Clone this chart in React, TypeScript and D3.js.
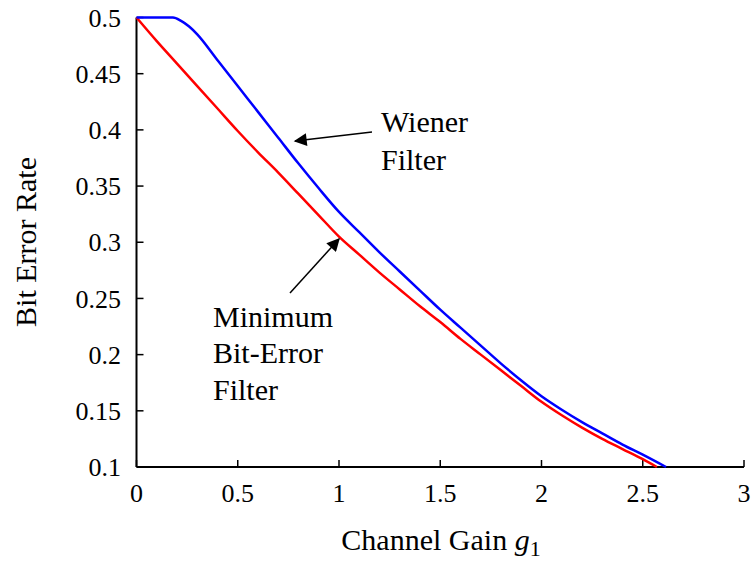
import React from "react";
import * as d3 from "d3";

const xTicks = [0, 0.5, 1, 1.5, 2, 2.5, 3];
const yTicks = [0.1, 0.15, 0.2, 0.25, 0.3, 0.35, 0.4, 0.45, 0.5];

const mbeX = [0, 0.1, 0.2, 0.3, 0.4, 0.5, 0.6, 0.7, 0.8, 0.9, 1.0, 1.1, 1.2, 1.3, 1.4, 1.5, 1.6, 1.7, 1.8, 1.9, 2.0, 2.1, 2.2, 2.3, 2.4, 2.5, 2.57];
const mbeY = [0.5, 0.479, 0.459, 0.439, 0.419, 0.399, 0.38, 0.362, 0.343, 0.324, 0.305, 0.289, 0.273, 0.258, 0.243, 0.229, 0.214, 0.2, 0.186, 0.172, 0.158, 0.146, 0.135, 0.125, 0.116, 0.107, 0.1];

const wienerX = [0, 0.18, 0.22, 0.26, 0.3, 0.4, 0.5, 0.6, 0.7, 0.8, 0.9, 1.0, 1.1, 1.2, 1.3, 1.4, 1.5, 1.6, 1.7, 1.8, 1.9, 2.0, 2.1, 2.2, 2.3, 2.4, 2.5, 2.615];
const wienerY = [0.5, 0.5, 0.497, 0.492, 0.485, 0.462, 0.439, 0.416, 0.393, 0.37, 0.348, 0.327, 0.309, 0.291, 0.274, 0.257, 0.24, 0.224, 0.208, 0.192, 0.177, 0.163, 0.151, 0.14, 0.13, 0.12, 0.111, 0.1];

const W = 753;
const H = 561;
const FONT = "'Liberation Serif', 'Times New Roman', Times, serif";

export default function App() {
  const x = d3.scaleLinear().domain([0, 3]).range([136.5, 744]);
  const y = d3.scaleLinear().domain([0.1, 0.5]).range([467, 17.5]);
  const line = d3
    .line<[number, number]>()
    .x((d) => x(d[0]))
    .y((d) => y(d[1]))
    .curve(d3.curveMonotoneX);
  const mbe = mbeX.map((v, i) => [v, mbeY[i]] as [number, number]);
  const wiener = wienerX.map((v, i) => [v, wienerY[i]] as [number, number]);
  const ts = { fontFamily: FONT };

  return (
    <svg
      width={W}
      height={H}
      style={{ position: "absolute", left: 0, top: 0, background: "#fff" }}
    >
      <defs>
        <marker
          id="ah"
          viewBox="0 0 10 10"
          refX={9}
          refY={5}
          markerWidth={17}
          markerHeight={13}
          markerUnits="userSpaceOnUse"
          orient="auto"
        >
          <path d="M0,0 L10,5 L0,10 Z" fill="#000" />
        </marker>
      </defs>
      {/* axes */}
      <line x1={x(0)} x2={x(3)} y1={y(0.1)} y2={y(0.1)} stroke="#000" strokeWidth={2} />
      <line x1={x(0)} x2={x(0)} y1={y(0.1)} y2={y(0.5)} stroke="#000" strokeWidth={2} />
      {xTicks.map((t) => (
        <g key={"x" + t}>
          <line x1={x(t)} x2={x(t)} y1={y(0.1)} y2={y(0.1) - 7} stroke="#000" strokeWidth={1.5} />
          <text x={x(t)} y={502} textAnchor="middle" fontSize={26} style={ts}>
            {String(t)}
          </text>
        </g>
      ))}
      {yTicks.map((t) => (
        <g key={"y" + t}>
          <line x1={x(0)} x2={x(0) + 7} y1={y(t)} y2={y(t)} stroke="#000" strokeWidth={1.5} />
          <text x={121} y={y(t)} dy="0.35em" textAnchor="end" fontSize={26} style={ts}>
            {String(t)}
          </text>
        </g>
      ))}
      {/* series */}
      <path d={line(mbe) || ""} fill="none" stroke="#ff0000" strokeWidth={2.5} />
      <path d={line(wiener) || ""} fill="none" stroke="#0000ff" strokeWidth={2.5} />
      {/* axis labels */}
      <text x={441} y={550} textAnchor="middle" fontSize={30} style={ts}>
        Channel Gain <tspan fontStyle="italic">g</tspan>
        <tspan fontSize={22} dy={6}>1</tspan>
      </text>
      <text transform="translate(36,242) rotate(-90)" textAnchor="middle" fontSize={30} style={ts}>
        Bit Error Rate
      </text>
      {/* annotations */}
      <text x={381} y={132} fontSize={30} style={ts}>Wiener</text>
      <text x={381} y={170} fontSize={30} style={ts}>Filter</text>
      <line x1={372} y1={132} x2={295} y2={141} stroke="#000" strokeWidth={1.5} markerEnd="url(#ah)" />
      <text x={213} y={327} fontSize={30} style={ts}>Minimum</text>
      <text x={213} y={363} fontSize={30} style={ts}>Bit-Error</text>
      <text x={213} y={400} fontSize={30} style={ts}>Filter</text>
      <line x1={290} y1={293} x2={339} y2={239} stroke="#000" strokeWidth={1.5} markerEnd="url(#ah)" />
    </svg>
  );
}
